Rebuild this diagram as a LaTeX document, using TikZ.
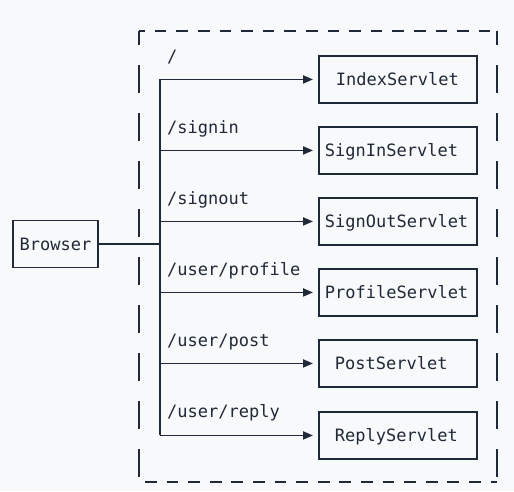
\documentclass[tikz,border=0pt]{standalone}
\usepackage{fontspec}
\setmonofont{DejaVu Sans Mono}
\usetikzlibrary{arrows.meta}
\definecolor{ink}{RGB}{31,41,55}
\definecolor{bg}{RGB}{248,249,251}
\begin{document}
\begin{tikzpicture}[x=1pt,y=-1pt,
  every node/.style={font=\ttfamily\fontsize{17}{20}\selectfont, text=ink},
  box/.style={draw=ink, line width=1.9pt, minimum height=47, text height=16, text depth=3.6, align=left, anchor=north west},
  wire/.style={draw=ink, line width=1.9pt},
  arr/.style={wire, -{Triangle[length=10pt,width=8pt]}, shorten >=5pt},
  lbl/.style={anchor=base west, inner sep=0},
  hdash/.style={draw=ink, line width=1.9pt, dash pattern=on 11.7pt off 9.9pt},
  vdash/.style={draw=ink, line width=1.9pt, dash pattern=on 28pt off 20pt, dash phase=14pt}]
\fill[bg] (0,0) rectangle (514,491);
\useasboundingbox (0,0) rectangle (514,491);
% dashed container
\draw[hdash, dash phase=5.85pt] (139,31) -- (497,31);
\draw[hdash, dash phase=15.6pt] (139,482) -- (497,482);
\draw[vdash] (139,31) -- (139,482);
\draw[vdash] (497,31) -- (497,482);
% nodes
\node[box, anchor=center, minimum width=85, inner xsep=0, align=center] (br) at (55.5,244) {Browser};
\node[box, inner xsep=17, text width=124] (idx) at (318,55) {IndexServlet};
\node[box, inner xsep=6, text width=146] (sin) at (318,126) {SignInServlet};
\node[box, inner xsep=6, text width=146] (sout) at (318,197) {SignOutServlet};
\node[box, inner xsep=6, text width=146] (prof) at (318,268) {ProfileServlet};
\node[box, inner xsep=16, text width=126] (post) at (318,339) {PostServlet};
\node[box, inner xsep=16, text width=126] (rep) at (318,411) {ReplyServlet};
% labels
\node[lbl] (l1) at (167,62) {/};
\node[lbl] (l2) at (167,133) {/signin};
\node[lbl] (l3) at (167,204) {/signout};
\node[lbl] (l4) at (167,275) {/user/profile};
\node[lbl] (l5) at (167,346) {/user/post};
\node[lbl] (l6) at (167,417) {/user/reply};
% connectors
\coordinate (j) at (160,245);
\draw[wire] (br.east) -- (br.east -| j);
\draw[wire] (j |- idx.west) -- (j |- rep.west);
\draw[arr] (j |- idx.west) -- (idx.west);
\draw[arr] (j |- sin.west) -- (sin.west);
\draw[arr] (j |- sout.west) -- (sout.west);
\draw[arr] (j |- prof.west) -- (prof.west);
\draw[arr] (j |- post.west) -- (post.west);
\draw[arr] (j |- rep.west) -- (rep.west);
\end{tikzpicture}
\end{document}
